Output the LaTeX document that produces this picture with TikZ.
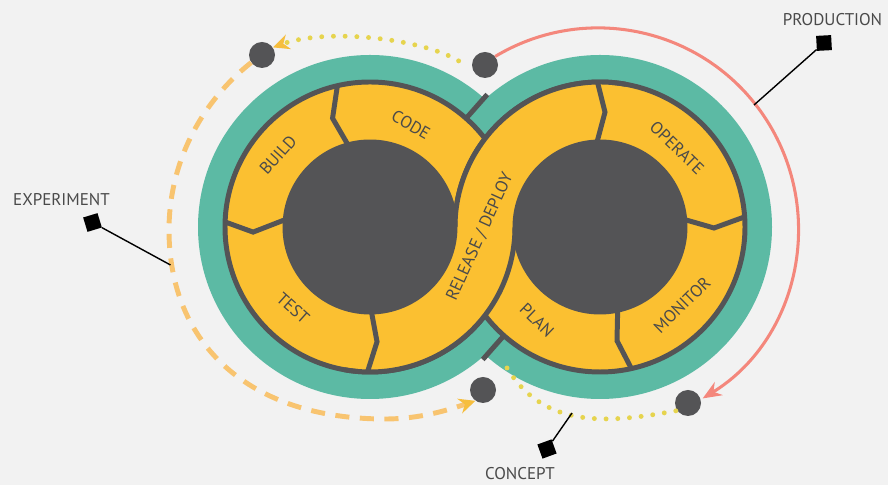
\documentclass[tikz,border=0pt]{standalone}
\usepackage{fontspec}
\setmainfont{PT Sans}
\usetikzlibrary{arrows.meta, calc}
\definecolor{bgGray}{HTML}{F2F2F2}
\definecolor{loopTeal}{HTML}{5CBAA4}
\definecolor{loopYellow}{HTML}{FBC031}
\definecolor{loopDark}{HTML}{545456}
\definecolor{expOrange}{HTML}{F8C470}
\definecolor{tipOrange}{HTML}{F6BE3E}
\definecolor{conceptYellow}{HTML}{E6D44E}
\definecolor{prodSalmon}{HTML}{F4877C}
\definecolor{labelGray}{HTML}{4A4A4A}
\tikzset{
  ring/.style={fill=loopYellow, draw=loopDark, line width=4.25pt},
  disc/.style={fill=loopDark, draw=loopDark, line width=4.25pt},
  divider/.style={draw=loopDark, line width=4.25pt},
  seglabel/.style={text=labelGray, inner sep=0pt},
  outlabel/.style={text=labelGray, inner sep=0pt},
  hub/.style={circle, fill=loopDark, minimum size=0.78cm, inner sep=0pt},
  marker/.style={fill=black, minimum size=0.45cm, inner sep=0pt},
  leader/.style={draw=black, line width=1.2pt},
  dotpath/.style={draw=conceptYellow, line width=4.2pt, line cap=round, dash pattern=on 0pt off 10pt},
  dashpath/.style={draw=expOrange, line width=4.2pt, dash pattern=on 12pt off 9pt},
  prodpath/.style={draw=prodSalmon, line width=2.6pt}
}

\begin{document}
\begin{tikzpicture}[x=0.03cm, y=0.03cm, font=\fontsize{14.5}{16}\selectfont]
  \useasboundingbox (0,0) rectangle (888,485);
  \fill[bgGray] (0,0) rectangle (888,485);
  \coordinate (L) at (370,258);
  \coordinate (R) at (600,258);

  % teal halos
  \fill[loopTeal] (L) circle[radius=172];
  \fill[loopTeal] (R) circle[radius=172];

  % the two loops
  \filldraw[ring] (L) circle[radius=145];
  \filldraw[ring] (R) circle[radius=145];

  % release / deploy band crosses over
  \fill[loopYellow, shift={(L)}] (-95:145) arc[start angle=-95, end angle=0, radius=145] -- (0:85) arc[start angle=0, end angle=-95, radius=85] -- cycle;
  \fill[loopYellow, shift={(R)}] (85:145) arc[start angle=85, end angle=180, radius=145] -- (180:85) arc[start angle=180, end angle=85, radius=85] -- cycle;
  \draw[divider, shift={(L)}] (-100:145) arc[start angle=-100, end angle=0, radius=145];
  \draw[divider, shift={(R)}] (180:145) arc[start angle=180, end angle=80, radius=145];

  \filldraw[disc] (L) circle[radius=85];
  \filldraw[disc] (R) circle[radius=85];

  % segment borders
  \draw[divider, shift={(L)}] (103:145) -- (109:115) -- (105:85);
  \draw[divider, shift={(L)}] (178:145) -- (182.5:117) -- (175:85);
  \draw[divider, shift={(L)}] (269:145) -- (273.5:115) -- (271:85);
  \draw[divider, shift={(R)}] (91:145) -- (87.5:115) -- (92:85);
  \draw[divider, shift={(R)}] (4:145) -- (-0.5:114) -- (5:85);
  \draw[divider, shift={(R)}] (-77.5:145) -- (-81.5:115) -- (-78:85);
  \draw[divider, shift={(L)}] (48.5:145) -- (48.5:177);
  \draw[divider, shift={(R)}] (228.5:145) -- (228.5:177);

  % stage names
  \node[seglabel, rotate=-30] (code) at (411,360) {CODE};
  \node[seglabel, rotate=48] (build) at (278,330) {BUILD};
  \node[seglabel, rotate=-42] (test) at (293,177) {TEST};
  \node[seglabel, rotate=65.5] (release) at (480,248) {RELEASE / DEPLOY};
  \node[seglabel, rotate=-44] (operate) at (677,337) {OPERATE};
  \node[seglabel, rotate=44.5] (monitor) at (682,180) {MONITOR};
  \node[seglabel, rotate=-44] (plan) at (537,165) {PLAN};

  % hubs
  \node[hub] (d1) at (262,430) {};
  \node[hub] (d2) at (485,420) {};
  \node[hub] (d3) at (483,95) {};
  \node[hub] (d4) at (688,82) {};
  \coordinate (expleft) at (169,255);
  \coordinate (expbottom) at (385,66);
  \coordinate (expmark) at (170.5,220);
  \coordinate (prodmark) at (754,380);
  \coordinate (conceptstart) at (507,117);
  \coordinate (conceptmark) at (572,72);

  % flows
  \draw[dotpath, shorten <=14pt, -{Stealth[length=14pt, width=13pt, color=tipOrange]}] (d2.200) .. controls (425,445) and (330,458) .. (d1.35);
  \draw[dashpath, -{Stealth[length=14pt, width=13pt, color=tipOrange]}] (d1.215) .. controls (199,381) and (169,320) .. (expleft) .. controls (169,140) and (250,66) .. (expbottom) .. controls (420,66) and (448,75) .. (d3.235);
  \draw[prodpath, -{Stealth[length=16pt, width=13pt]}] (d2.40) arc[start angle=121, end angle=-58.5, radius=200];
  \draw[dotpath] (conceptstart) .. controls (545,55) and (610,62) .. (d4.215);

  % phase labels
  \node[outlabel] (experiment) at (61.5,285) {EXPERIMENT};
  \node[outlabel] (production) at (832.5,465) {PRODUCTION};
  \node[outlabel] (concept) at (520,11) {CONCEPT};
  \node[marker, rotate=17] (sqexp) at (92.5,262.5) {};
  \node[marker, rotate=3] (sqprod) at (824,442) {};
  \node[marker, rotate=20] (sqconcept) at (547,36) {};
  \draw[leader] (sqexp) -- (expmark);
  \draw[leader] (sqprod) -- (prodmark);
  \draw[leader] (sqconcept) -- (conceptmark);
\end{tikzpicture}
\end{document}
